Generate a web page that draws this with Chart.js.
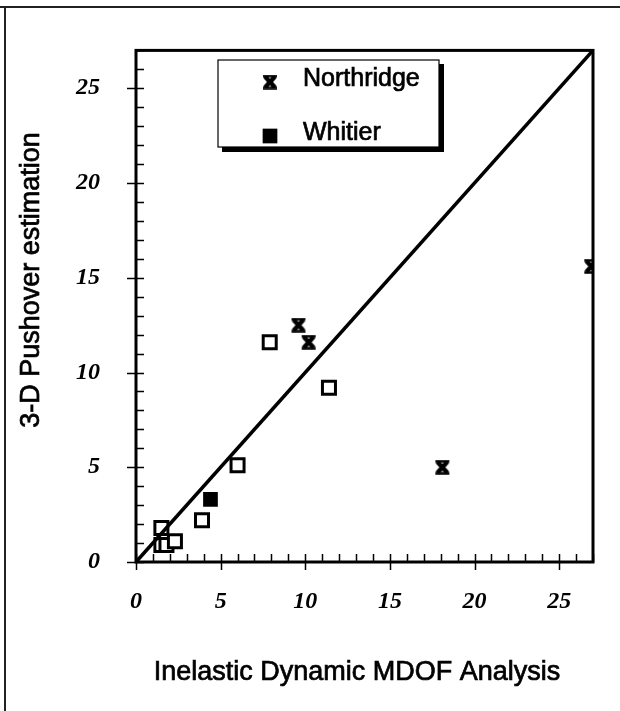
<!DOCTYPE html>
<html>
<head>
<meta charset="utf-8">
<script src="https://cdn.jsdelivr.net/npm/chart.js@4.4.1/dist/chart.umd.min.js"></script>
<style>
  html, body { margin: 0; padding: 0; background: #fff; }
  #wrap { width: 620px; height: 711px; }
</style>
</head>
<body>
<div id="wrap"><canvas id="chart" width="620" height="711"></canvas></div>
<script>
// values
const northridgeX = [9.6, 10.2, 18.1, 26.9];
const northridgeY = [12.5, 11.6, 5.0, 15.6];
const whitierX = [4.4];
const whitierY = [3.3];
// unlabelled open squares
const otherX = [7.9, 11.4, 6.0, 3.9, 1.5, 1.5, 1.8, 2.3];
const otherY = [11.6, 9.2, 5.1, 2.2, 1.8, 0.9, 0.9, 1.1];
// 1:1 reference line
const lineX = [0, 27];
const lineY = [0, 27];
const xTicks = [0, 5, 10, 15, 20, 25];
const yTicks = [0, 5, 10, 15, 20, 25];
const axisMax = 27;
const xTitle = 'Inelastic Dynamic MDOF Analysis';
const yTitle = '3-D Pushover estimation';

const pts = (xs, ys) => xs.map((x, i) => ({ x: x, y: ys[i] }));

// heavy "x" closed by bars top and bottom, like the Northridge marker
function makeCross() {
  const c = document.createElement('canvas');
  c.width = 16; c.height = 15;
  const g = c.getContext('2d');
  g.strokeStyle = '#000';
  g.lineWidth = 4.5;
  g.beginPath();
  g.moveTo(3, 2); g.lineTo(13, 13);
  g.moveTo(13, 2); g.lineTo(3, 13);
  g.stroke();
  g.lineWidth = 2.5;
  g.beginPath();
  g.moveTo(1, 1.5); g.lineTo(15, 1.5);
  g.moveTo(1, 13.5); g.lineTo(15, 13.5);
  g.stroke();
  return c;
}
const crossMark = makeCross();

const tickFont = { family: '"Liberation Serif", "Times New Roman", serif', size: 24, style: 'italic', weight: 'bold' };
const titleCss = '27px "Liberation Sans", Arial, sans-serif';
const legendCss = '25px "Liberation Sans", Arial, sans-serif';

// photocopied look: fill plus a thin outline
function heavyText(ctx, text, x, y) {
  ctx.fillText(text, x, y);
  ctx.lineWidth = 0.7;
  ctx.strokeText(text, x, y);
}

// page edge, plot frame, ticks, axis titles and the boxed legend
const decor = {
  id: 'decor',
  beforeDraw(chart) {
    const ctx = chart.ctx;
    ctx.save();
    ctx.fillStyle = '#fff';
    ctx.fillRect(0, 0, chart.width, chart.height);
    ctx.strokeStyle = '#222';
    ctx.lineWidth = 2;
    ctx.beginPath();
    ctx.moveTo(0, 7); ctx.lineTo(chart.width, 7);
    ctx.moveTo(5, 6); ctx.lineTo(5, chart.height);
    ctx.stroke();
    ctx.restore();
  },
  afterDatasetsDraw(chart) {
    const ctx = chart.ctx;
    const a = chart.chartArea;
    const xs = chart.scales.x, ys = chart.scales.y;
    ctx.save();
    ctx.strokeStyle = '#000';
    ctx.lineWidth = 3;
    ctx.strokeRect(a.left, a.top, a.right - a.left, a.bottom - a.top);
    ctx.lineWidth = 1.5;
    ctx.beginPath();
    for (let v = 0; v <= axisMax; v++) {
      const major = v % 5 === 0;
      const px = Math.round(xs.getPixelForValue(v)) + 0.5;
      ctx.moveTo(px, a.bottom - 8);
      ctx.lineTo(px, a.bottom + (major ? 8 : 0));
      const py = Math.round(ys.getPixelForValue(v)) + 0.5;
      ctx.moveTo(a.left - (major ? 9 : 0), py);
      ctx.lineTo(a.left + 8, py);
    }
    ctx.stroke();

    // axis titles
    ctx.fillStyle = '#000';
    ctx.strokeStyle = '#000';
    ctx.font = titleCss;
    ctx.textAlign = 'center';
    ctx.textBaseline = 'middle';
    heavyText(ctx, xTitle, 357, 673);
    ctx.save();
    ctx.translate(32, 280);
    ctx.rotate(-Math.PI / 2);
    heavyText(ctx, yTitle, 0, 0);
    ctx.restore();

    // legend box with drop shadow
    const bx = 218, by = 60, bw = 221, bh = 87;
    ctx.fillStyle = '#fff';
    ctx.fillRect(bx, by, bw, bh);
    ctx.fillStyle = '#000';
    ctx.fillRect(bx + bw, by + 4, 5, bh + 1);
    ctx.fillRect(bx + 4, by + bh, bw + 1, 5);
    ctx.lineWidth = 1.2;
    ctx.strokeRect(bx, by, bw, bh);

    const entries = chart.data.datasets.filter(d => d.inLegend);
    entries.forEach((d, i) => {
      const cy = by + 19 + i * 54;
      ctx.fillStyle = '#000';
      ctx.strokeStyle = '#000';
      ctx.lineWidth = 1;
      Chart.helpers.drawPoint(ctx, { pointStyle: d.pointStyle, radius: d.legendRadius || 10, borderWidth: 0, rotation: 0 }, 270, cy + 3);
      ctx.font = legendCss;
      ctx.textBaseline = 'middle';
      ctx.textAlign = 'left';
      heavyText(ctx, d.label, 303, cy);
    });
    ctx.restore();
  }
};

new Chart(document.getElementById('chart'), {
  type: 'scatter',
  data: {
    datasets: [
      {
        type: 'line',
        label: 'line',
        data: pts(lineX, lineY),
        borderColor: '#000',
        borderWidth: 3.5,
        pointRadius: 0,
        fill: false
      },
      {
        label: 'Other',
        data: pts(otherX, otherY),
        pointStyle: 'rect',
        pointRadius: 9.2,
        pointBackgroundColor: '#fff',
        pointBorderColor: '#000',
        pointBorderWidth: 3
      },
      {
        label: 'Northridge',
        inLegend: true,
        data: pts(northridgeX, northridgeY),
        pointStyle: crossMark,
        pointRadius: 8
      },
      {
        label: 'Whitier',
        inLegend: true,
        legendRadius: 10.4,
        data: pts(whitierX, whitierY),
        pointStyle: 'rect',
        pointRadius: 10.4,
        pointBackgroundColor: '#000',
        pointBorderColor: '#000',
        pointBorderWidth: 0
      }
    ]
  },
  options: {
    responsive: false,
    animation: false,
    layout: { padding: { top: 42, right: 27, left: 0, bottom: 0 } },
    plugins: {
      legend: { display: false },
      tooltip: { enabled: false }
    },
    scales: {
      x: {
        type: 'linear',
        min: 0,
        max: axisMax,
        afterBuildTicks: s => { s.ticks = xTicks.map(v => ({ value: v })); },
        afterFit: s => { s.height = 149; },
        grid: { display: false, drawTicks: false },
        border: { display: false },
        ticks: { color: '#000', font: tickFont, padding: 25, maxRotation: 0 }
      },
      y: {
        type: 'linear',
        min: 0,
        max: axisMax,
        afterBuildTicks: s => { s.ticks = yTicks.map(v => ({ value: v })); },
        afterFit: s => { s.width = 136; },
        grid: { display: false, drawTicks: false },
        border: { display: false },
        ticks: { color: '#000', font: tickFont, padding: 36 }
      }
    }
  },
  plugins: [decor]
});
</script>
</body>
</html>
